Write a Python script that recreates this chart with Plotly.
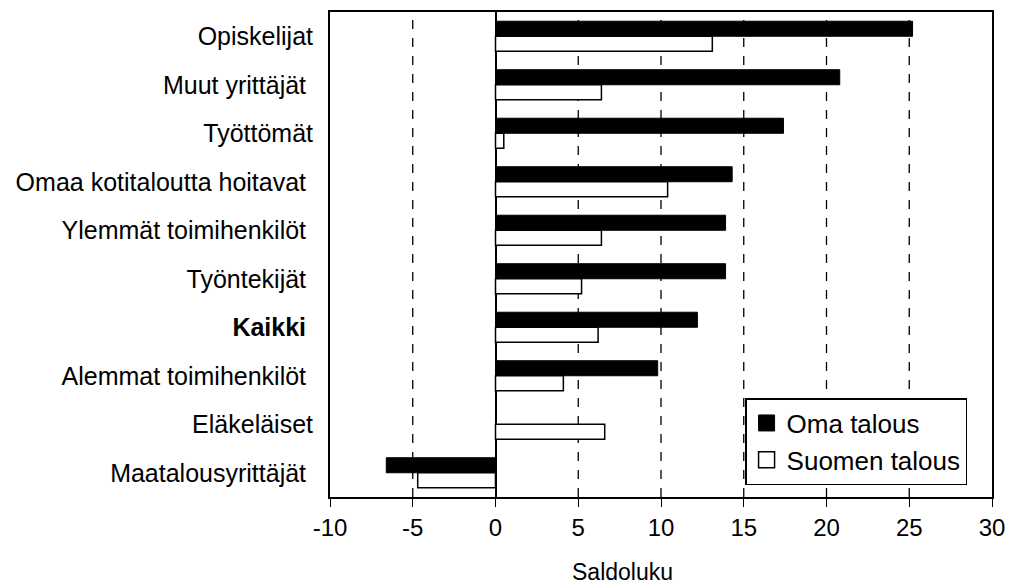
import plotly.graph_objects as go

categories = ["Opiskelijat", "Muut yrittäjät\u00a0", "Työttömät", "Omaa kotitaloutta hoitavat\u00a0",
              "Ylemmät toimihenkilöt\u00a0", "Työntekijät\u00a0", "<b>Kaikki</b>\u00a0",
              "Alemmat toimihenkilöt\u00a0", "Eläkeläiset", "Maatalousyrittäjät\u00a0"]
oma_talous = [25.2, 20.8, 17.4, 14.3, 13.9, 13.9, 12.2, 9.8, 0.0, -6.6]
suomen_talous = [13.1, 6.4, 0.5, 10.4, 6.4, 5.2, 6.2, 4.1, 6.6, -4.7]
x_ticks = [-10, -5, 0, 5, 10, 15, 20, 25, 30]
x_tick_text = ["-10", "-5", "0", "5", "10", "15", "20", "25", "30"]
grid_values = [-5, 5, 10, 15, 20, 25]

font = "Arial, Liberation Sans, sans-serif"

fig = go.Figure()
fig.add_trace(go.Bar(y=categories, x=oma_talous, orientation="h", name="Oma talous",
                     showlegend=False,
                     marker=dict(color="black", line=dict(color="black", width=1))))
fig.add_trace(go.Bar(y=categories, x=suomen_talous, orientation="h", name="Suomen talous",
                     showlegend=False,
                     marker=dict(color="white", line=dict(color="black", width=1.5))))
# legend entries with larger square swatches
fig.add_trace(go.Scatter(x=[None], y=[None], mode="markers", name="Oma talous",
                         legendgroup="a",
                         marker=dict(symbol="square", size=20, color="black",
                                     line=dict(color="black", width=1))))
fig.add_trace(go.Scatter(x=[None], y=[None], mode="markers", name="Suomen talous",
                         legendgroup="b",
                         marker=dict(symbol="square", size=20, color="white",
                                     line=dict(color="black", width=1.5))))

for v in grid_values:
    fig.add_vline(x=v, line=dict(color="black", width=1.3, dash="dash"), layer="below")

fig.update_layout(
    width=1010, height=585,
    margin=dict(l=330, r=18, t=12, b=88),
    paper_bgcolor="white", plot_bgcolor="white",
    barmode="group", bargap=0.38, bargroupgap=0.0,
    font=dict(family=font, size=24, color="black"),
    showlegend=True,
    legend=dict(x=0.627, y=0.204, xanchor="left", yanchor="top",
                bordercolor="black", borderwidth=1.5, bgcolor="white",
                font=dict(size=26, family=font), tracegroupgap=0,
                itemwidth=30, traceorder="grouped", itemsizing="trace"),
    xaxis=dict(range=[-10, 30], tickvals=x_ticks, ticktext=x_tick_text, ticks="outside",
               ticklen=8, tickcolor="black", showgrid=False, zeroline=True,
               zerolinecolor="black", zerolinewidth=2, showline=True, linecolor="black",
               linewidth=2, mirror=True, tickfont=dict(size=24), automargin=False),
    yaxis=dict(autorange="reversed", showgrid=False, showline=True, linecolor="black",
               linewidth=2, mirror=True, ticks="", tickfont=dict(size=25),
               ticklabelstandoff=10, automargin=False),
    annotations=[dict(text="Saldoluku", xref="paper", yref="paper", x=0.442, y=-0.155,
                      xanchor="center", yanchor="middle", showarrow=False,
                      font=dict(size=23, family=font))],
)

fig.write_html("out.html", config={"displayModeBar": False},
               post_script="document.body.style.margin='0';document.body.style.overflow='hidden';")
